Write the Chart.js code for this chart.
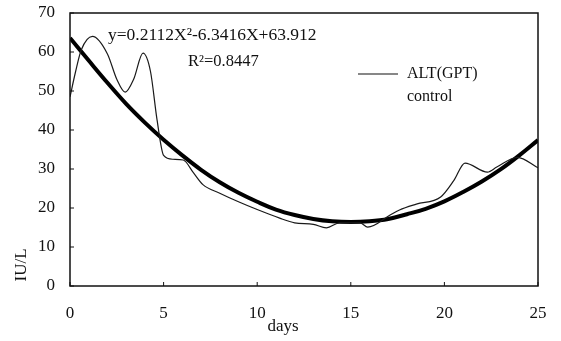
<!DOCTYPE html>
<html>
<head>
<meta charset="utf-8">
<script src="https://cdn.jsdelivr.net/npm/chart.js@4"></script>
<style>
  html, body { margin: 0; padding: 0; background: #fff; }
  #wrap { width: 561px; height: 341px; }
</style>
</head>
<body>
<div id="wrap"><canvas id="altChart" width="561" height="341"></canvas></div>
<script>
// ALT(GPT) measurements, control group
const altDays   = [0, 0.3, 0.6, 1.2, 2, 2.5, 2.95, 3.4, 3.9, 4.3, 4.65, 5, 5.5, 6.05, 6.6, 7.1, 8, 9, 10, 11.2, 12, 13, 13.7, 14.4, 15.5, 15.9, 17.1, 17.6, 18.5, 19.8, 20.5, 21.1, 22.3, 22.8, 23.9, 25];
const altValues = [48.5, 55, 60.5, 64, 59.5, 53, 49.7, 53, 59.7, 55, 42.6, 33.5, 32.5, 32.3, 29, 26, 23.8, 21.6, 19.6, 17.4, 16.2, 15.8, 14.9, 16.2, 16.2, 15.1, 18.2, 19.5, 21, 22.8, 27, 31.5, 29.2, 30.5, 33, 30.3];

// polynomial trend line
const fitDays   = [0, 1, 2, 3, 4, 5, 6, 7, 8, 9, 10, 11, 12, 13, 14, 15, 16, 17, 18, 19, 20, 21, 22, 23, 24, 25];
const fitValues = [63.6, 57.8, 52.1, 46.7, 41.9, 37.5, 33.5, 29.8, 26.6, 23.9, 21.6, 19.6, 18.2, 17.2, 16.6, 16.4, 16.6, 17.2, 18.4, 19.8, 21.7, 24.1, 26.8, 29.9, 33.5, 37.4];

const xTicks = [0, 5, 10, 15, 20, 25];
const yTicks = [0, 10, 20, 30, 40, 50, 60, 70];

const serif = "'Liberation Serif', 'Times New Roman', serif";

const decor = {
  id: 'decor',
  afterDraw(chart) {
    const ctx = chart.ctx;
    const a = chart.chartArea;
    const xs = chart.scales.x, ys = chart.scales.y;
    ctx.save();
    ctx.strokeStyle = '#111';
    ctx.lineWidth = 1.5;
    ctx.strokeRect(a.left, a.top, a.right - a.left, a.bottom - a.top);
    // inward ticks
    ctx.lineWidth = 1;
    xTicks.forEach(t => {
      const px = xs.getPixelForValue(t);
      ctx.beginPath(); ctx.moveTo(px, a.bottom); ctx.lineTo(px, a.bottom - 4); ctx.stroke();
    });
    yTicks.forEach(t => {
      const py = ys.getPixelForValue(t);
      ctx.beginPath(); ctx.moveTo(a.left, py); ctx.lineTo(a.left + 4, py); ctx.stroke();
    });
    ctx.fillStyle = '#111';
    ctx.textBaseline = 'middle';
    ctx.textAlign = 'left';
    ctx.font = '17.5px ' + serif;
    ctx.fillText('y=0.2112X\u00B2-6.3416X+63.912', 108, 35);
    ctx.font = '16.5px ' + serif;
    ctx.fillText('R\u00B2=0.8447', 188, 62);
    // legend
    ctx.font = '16px ' + serif;
    ctx.fillText('ALT(GPT)', 407, 74);
    ctx.fillText('control', 407, 97);
    ctx.lineWidth = 1.2;
    ctx.beginPath(); ctx.moveTo(358, 74); ctx.lineTo(398, 74); ctx.stroke();
    // axis titles
    ctx.font = '17px ' + serif;
    ctx.textAlign = 'center';
    ctx.fillText('days', 283, 327);
    ctx.translate(22, 265);
    ctx.rotate(-Math.PI / 2);
    ctx.fillText('IU/L', 0, 0);
    ctx.restore();
  }
};

new Chart(document.getElementById('altChart'), {
  type: 'line',
  data: {
    datasets: [{
      label: 'ALT(GPT)',
      data: altDays.map((d, i) => ({ x: d, y: altValues[i] })),
      borderColor: '#1a1a1a',
      borderWidth: 1.2,
      pointRadius: 0,
      cubicInterpolationMode: 'monotone'
    }, {
      label: 'trend',
      data: fitDays.map((d, i) => ({ x: d, y: fitValues[i] })),
      borderColor: '#000',
      borderWidth: 4,
      pointRadius: 0,
      tension: 0.4
    }]
  },
  plugins: [decor],
  options: {
    responsive: false,
    animation: false,
    layout: { padding: { top: 13, right: 23, left: 0, bottom: 0 } },
    plugins: { legend: { display: false }, tooltip: { enabled: false } },
    scales: {
      x: {
        type: 'linear', min: 0, max: 25,
        afterBuildTicks: s => { s.ticks = xTicks.map(v => ({ value: v })); },
        afterFit: s => { s.height = 55; s.paddingLeft = 0; s.paddingRight = 0; },
        grid: { display: false, drawTicks: false },
        border: { display: false },
        ticks: { color: '#111', font: { family: serif, size: 17 }, padding: 17, maxRotation: 0 }
      },
      y: {
        min: 0, max: 70,
        afterBuildTicks: s => { s.ticks = yTicks.map(v => ({ value: v })); },
        afterFit: s => { s.width = 70; s.paddingTop = 0; s.paddingBottom = 0; },
        grid: { display: false, drawTicks: false },
        border: { display: false },
        ticks: { color: '#111', font: { family: serif, size: 17 }, padding: 15 }
      }
    }
  }
});
</script>
</body>
</html>
